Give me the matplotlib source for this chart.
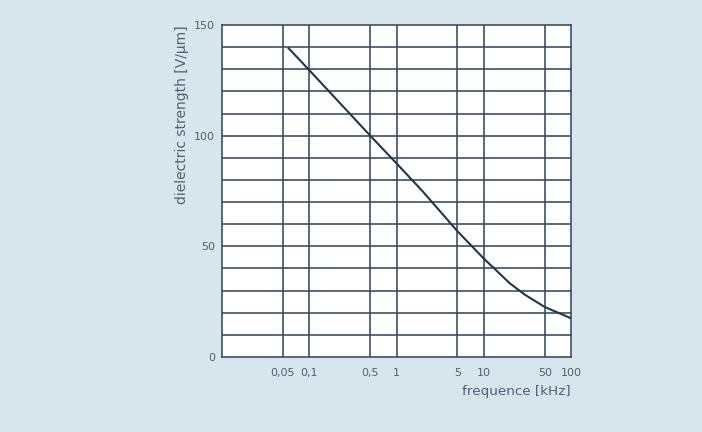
import numpy as np
import matplotlib.pyplot as plt

# data
freq = [0.058, 0.1, 0.5, 1, 2, 5, 10, 20, 30, 50, 100]
strength = [139.5, 129.6, 100, 87.5, 74.8, 56.8, 44.5, 33.2, 28, 22.6, 17.5]

x_ticks = [0.05, 0.1, 0.5, 1, 5, 10, 50, 100]
x_labels = ['0,05', '0,1', '0,5', '1', '5', '10', '50', '100']
y_ticks = [0, 50, 100, 150]
y_grid = list(range(10, 150, 10))

bg = '#d7e5ed'
grid_col = '#34495f'
line_col = '#1f3650'
text_col = '#4f6072'

plt.rcParams['font.family'] = ['DejaVu Sans']

fig = plt.figure(figsize=(7.02, 4.32), dpi=100, facecolor=bg)
ax = fig.add_axes([222 / 702, 1 - 357 / 432, (571 - 222) / 702, (357 - 25) / 432])
ax.set_facecolor('white')

ax.set_xscale('log')
ax.set_xlim(0.01, 100)
ax.set_ylim(0, 150)

for x in x_ticks[:-1]:
    ax.axvline(x, color=grid_col, lw=1.15, zorder=1)
for y in y_grid:
    ax.axhline(y, color=grid_col, lw=1.15, zorder=1)

ax.plot(freq, strength, color=line_col, lw=1.5, zorder=3)

ax.set_xticks(x_ticks)
ax.set_xticklabels(x_labels)
ax.xaxis.set_minor_locator(plt.NullLocator())
ax.set_yticks(y_ticks)
ax.tick_params(length=0, labelsize=8, labelcolor=text_col)
ax.tick_params(axis='x', pad=8)
ax.tick_params(axis='y', pad=5)

for s in ax.spines.values():
    s.set_color(grid_col)
    s.set_linewidth(1.15)

ax.set_ylabel('dielectric strength [V/µm]', fontsize=10, color=text_col)
ax.yaxis.set_label_coords(-0.095, 1.0)
ax.yaxis.label.set_ha('right')
ax.set_xlabel('frequence [kHz]', fontsize=9.7, color=text_col)
ax.xaxis.set_label_coords(1.0, -0.084)
ax.xaxis.label.set_ha('right')

fig.savefig('out.png', dpi=100, facecolor=bg)
